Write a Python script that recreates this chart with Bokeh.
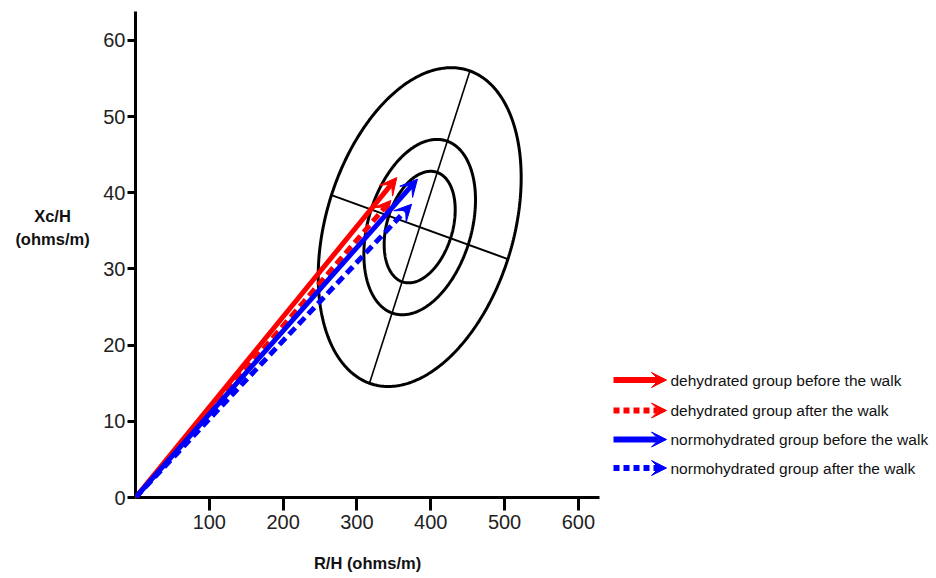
import numpy as np
from bokeh.plotting import figure
from bokeh.layouts import row
from bokeh.models import Arrow, VeeHead, FixedTicker, Range1d
from bokeh.core.properties import value
from bokeh.embed import file_html
from bokeh.resources import INLINE

# ---------------- data ----------------
groups = ["dehydrated group before the walk",
          "dehydrated group after the walk",
          "normohydrated group before the walk",
          "normohydrated group after the walk"]
rh_values = [354, 346, 382, 374]        # R/H (ohms/m), arrow tips
xch_values = [42.0, 39.0, 41.8, 38.5]   # Xc/H (ohms/m), arrow tips
group_colors = ["#ff0000", "#ff0000", "#0000ff", "#0000ff"]
group_dashes = ["solid", "9 5", "solid", "9 5"]
legend_dashes = ["solid", "6 4", "solid", "6 4"]

# reference tolerance ellipses (center and semi-axis end points, data units)
ref_center = [385.0, 35.5]
ref_major_end = [453.0, 56.0]
ref_minor_end = [504.5, 31.3]
ellipse_levels = ["50%", "75%", "95%"]
ellipse_scale = [0.35, 0.55, 1.0]

x_ticks = [100, 200, 300, 400, 500, 600]
y_ticks = [0, 10, 20, 30, 40, 50, 60]
x_title = "R/H (ohms/m)"
y_title = ["Xc/H", "(ohms/m)"]

FONT = "Liberation Sans"
H = 575

# ---------------- left strip with the y title ----------------
lab = figure(title=None, frame_width=100, frame_height=H, min_border=0,
             x_range=Range1d(0, 100), y_range=Range1d(H, 0),
             x_axis_location=None, y_axis_location=None,
             output_backend="svg", toolbar_location=None)
lab.outline_line_color = None
lab.grid.visible = False
lab.text(x=[52, 52], y=[204, 227], text=y_title,
         text_font=value(FONT), text_font_size="16.5px", text_font_style="bold",
         text_align="center", text_baseline="middle", text_color="#111111")

# ---------------- main plot ----------------
p = figure(title=None, frame_width=464, frame_height=486,
           min_border_left=33, min_border_right=10,
           min_border_top=11, min_border_bottom=H - 11 - 486,
           x_range=Range1d(0, 628.6), y_range=Range1d(0, 63.8),
           output_backend="svg", toolbar_location=None)
p.outline_line_color = None
p.grid.visible = False

for ax in (p.xaxis[0], p.yaxis[0]):
    ax.axis_line_width = 3
    ax.axis_line_color = "black"
    ax.major_tick_line_width = 3
    ax.major_tick_line_color = "black"
    ax.major_tick_in = 0
    ax.minor_tick_line_color = None
    ax.major_label_text_font = FONT
    ax.major_label_text_font_size = "20px"
    ax.major_label_text_color = "#222222"

p.xaxis[0].ticker = FixedTicker(ticks=x_ticks)
p.yaxis[0].ticker = FixedTicker(ticks=y_ticks)
p.xaxis[0].major_tick_out = 13
p.yaxis[0].major_tick_out = 8
p.xaxis[0].major_label_standoff = 4
p.yaxis[0].major_label_standoff = 2
p.xaxis[0].axis_label = x_title
p.xaxis[0].axis_label_text_font = FONT
p.xaxis[0].axis_label_text_font_size = "16.5px"
p.xaxis[0].axis_label_text_font_style = "bold"
p.xaxis[0].axis_label_text_color = "#111111"
p.xaxis[0].axis_label_standoff = 22

# ellipses
c = np.array(ref_center)
u = np.array(ref_major_end) - c
v = np.array(ref_minor_end) - c
t = np.linspace(0, 2 * np.pi, 361)
for s in ellipse_scale:
    ex = c[0] + s * (u[0] * np.cos(t) + v[0] * np.sin(t))
    ey = c[1] + s * (u[1] * np.cos(t) + v[1] * np.sin(t))
    p.line(ex, ey, line_color="black", line_width=3)

p.line([c[0] - u[0], c[0] + u[0]], [c[1] - u[1], c[1] + u[1]], line_color="black", line_width=1.6)
p.line([c[0] - v[0], c[0] + v[0]], [c[1] - v[1], c[1] + v[1]], line_color="black", line_width=2)

# vectors
for rh, xc, col, dash in zip(rh_values, xch_values, group_colors, group_dashes):
    p.add_layout(Arrow(x_start=0, y_start=0, x_end=rh, y_end=xc,
                       line_color=col, line_width=5, line_dash=dash,
                       end=VeeHead(size=17, fill_color=col, line_color=col, line_width=1)))

# ---------------- legend strip ----------------
LW = 936 - 100 - (33 + 464 + 10)
leg = figure(title=None, frame_width=LW, frame_height=H, min_border=0,
             x_range=Range1d(0, LW), y_range=Range1d(H, 0),
             x_axis_location=None, y_axis_location=None,
             output_backend="svg", toolbar_location=None)
leg.outline_line_color = None
leg.grid.visible = False
leg_y = [368.5, 399, 428, 456.5]
for i, (col, dash) in enumerate(zip(group_colors, legend_dashes)):
    leg.add_layout(Arrow(x_start=4, y_start=leg_y[i], x_end=57, y_end=leg_y[i],
                         line_color=col, line_width=6, line_dash=dash,
                         end=VeeHead(size=15, fill_color=col, line_color=col, line_width=1)))
leg.text(x=[61] * len(groups), y=leg_y, text=groups,
         text_font=value(FONT), text_font_size="15.5px",
         text_align="left", text_baseline="middle", text_color="#111111")

layout = row(lab, p, leg, spacing=0)
open("out.html", "w").write(file_html(layout, INLINE))
